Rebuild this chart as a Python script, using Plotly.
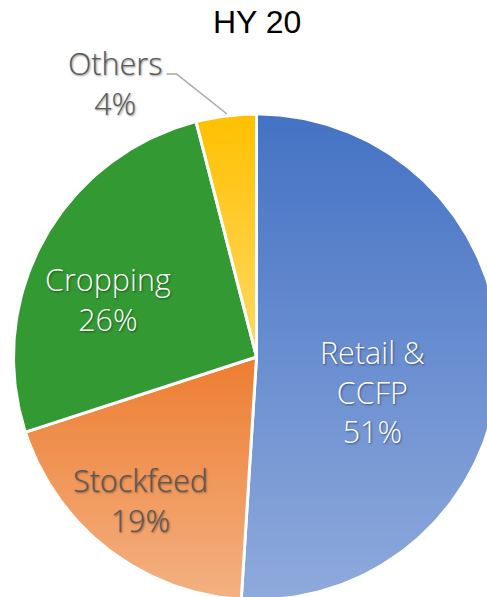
import numpy as np
import plotly.graph_objects as go

# Segment shares (percent of HY 20 revenue), drawn clockwise from 12 o'clock
categories = ["Retail & CCFP", "Stockfeed", "Cropping", "Others"]
shares = [51, 19, 26, 4]
label_text = ["Retail &<br>CCFP", "Stockfeed", "Cropping", "Others"]

# Vertical gradient per slice: (bottom colour, top colour)
slice_fills = [
    ("#8FAADC", "#4472C4"),
    ("#F4B183", "#ED7D31"),
    ("#339933", "#339933"),
    ("#FFD966", "#FFC000"),
]
label_colors = ["white", "#595959", "white", "#595959"]

W, H = 487, 597
CX, CY, R_PX = 256.5, 357.0, 243.0   # pie centre and radius in pixels

# label block centres in pixels
label_pos = [(372, 391), (140, 500), (108, 299), (115, 83)]


def paper(px, py):
    return px / W, 1 - py / H


fig = go.Figure()
total = float(sum(shares))
start = 0.0
for name, val, (lo, hi) in zip(categories, shares, slice_fills):
    a0 = start / total * 2 * np.pi
    a1 = (start + val) / total * 2 * np.pi
    t = np.linspace(a0, a1, max(int(val * 4), 12))
    xs = np.concatenate([[0.0], np.sin(t), [0.0]])
    ys = np.concatenate([[0.0], np.cos(t), [0.0]])
    fig.add_trace(go.Scatter(
        x=xs, y=ys, mode="lines", fill="toself",
        line=dict(color="white", width=3),
        fillgradient=dict(type="vertical", colorscale=[[0, lo], [1, hi]]),
        name=name, hoverinfo="name", showlegend=False,
    ))
    start += val

label_font = "'Open Sans', Lato, sans-serif"
for txt, val, col, (px, py) in zip(label_text, shares, label_colors, label_pos):
    x, y = paper(px, py)
    fig.add_annotation(
        x=x, y=y, xref="paper", yref="paper", xanchor="center", yanchor="middle",
        text=f"{txt}<br>{val}%", showarrow=False, align="center",
        font=dict(family=label_font, size=30.5, weight=300, color=col,
                  shadow="1px 1px 2px rgba(0,0,0,0.45)"),
    )

# leader line for the small slice label
lx = [166.5, 176.5, 227]
ly = [74, 74, 114]
path = "M " + " L ".join(f"{paper(a, b)[0]:.5f},{paper(a, b)[1]:.5f}" for a, b in zip(lx, ly))
fig.add_shape(type="path", path=path, xref="paper", yref="paper",
              line=dict(color="#A6A6A6", width=1.5))

tx, ty = paper(257, 22)
fig.add_annotation(x=tx, y=ty, xref="paper", yref="paper", xanchor="center", yanchor="middle",
                   text="HY 20", showarrow=False,
                   font=dict(family="Arial, 'Liberation Sans', sans-serif", size=32, color="black"))

fig.update_xaxes(visible=False, range=[-CX / R_PX, (W - CX) / R_PX], fixedrange=True)
fig.update_yaxes(visible=False, range=[-(H - CY) / R_PX, CY / R_PX], fixedrange=True)
fig.update_layout(
    width=W, height=H, margin=dict(l=0, r=0, t=0, b=0),
    paper_bgcolor="white", plot_bgcolor="white",
)

fig.write_html("out.html")
